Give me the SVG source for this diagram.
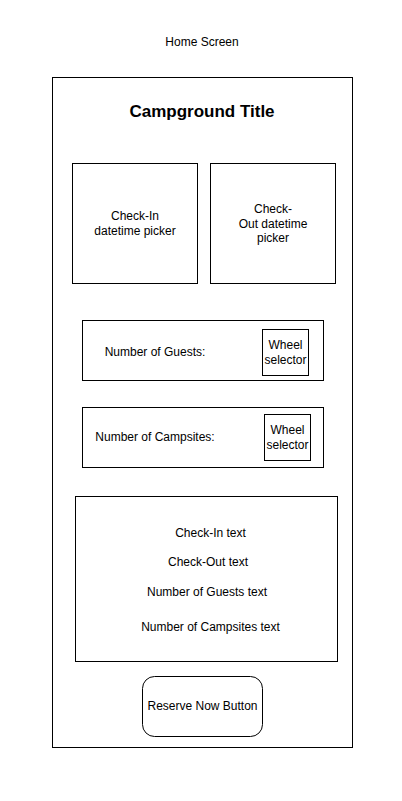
<svg xmlns="http://www.w3.org/2000/svg" width="402" height="801" viewBox="0 0 402 801">
<style>
.b{fill:#fff;stroke:#000;stroke-width:1}
.t{font-family:"Liberation Sans",Arial,sans-serif;font-size:12px;fill:#000;text-anchor:middle}
.h{font-weight:bold;font-size:17px}
</style>
<rect width="402" height="801" fill="#fff"/>
<g id="label-home"><text class="t" x="202" y="46">Home Screen</text></g>
<g id="screen"><rect class="b" x="52.5" y="77.5" width="300" height="670"/></g>
<g id="title"><text class="t h" x="202" y="117">Campground Title</text></g>
<g id="checkin-picker"><rect class="b" x="72.5" y="163.5" width="125" height="120"/>
<text class="t" x="135" y="220">Check-In</text><text class="t" x="135" y="235">datetime picker</text></g>
<g id="checkout-picker"><rect class="b" x="210.5" y="163.5" width="125" height="120"/>
<text class="t" x="273" y="213">Check-</text><text class="t" x="273" y="227.5">Out datetime</text><text class="t" x="273" y="242">picker</text></g>
<g id="guests"><rect class="b" x="82.5" y="320.5" width="241" height="60"/>
<text class="t" x="155" y="356">Number of Guests:</text></g>
<g id="guests-wheel"><rect class="b" x="262.5" y="329.5" width="46" height="46"/>
<text class="t" x="285.5" y="348.5">Wheel</text><text class="t" x="285.5" y="364">selector</text></g>
<g id="campsites"><rect class="b" x="82.5" y="407.5" width="241" height="60"/>
<text class="t" x="155" y="441">Number of Campsites:</text></g>
<g id="campsites-wheel"><rect class="b" x="264.5" y="414.5" width="46" height="46"/>
<text class="t" x="287.5" y="433.5">Wheel</text><text class="t" x="287.5" y="449">selector</text></g>
<g id="summary"><rect class="b" x="75.5" y="496.5" width="262" height="165"/>
<text class="t" x="210.5" y="537">Check-In text</text>
<text class="t" x="208" y="566">Check-Out text</text>
<text class="t" x="207" y="595.5">Number of Guests text</text>
<text class="t" x="210.5" y="631">Number of Campsites text</text></g>
<g id="reserve-button"><rect class="b" x="142.5" y="676.5" width="120" height="60" rx="12" ry="12"/>
<text class="t" x="202.5" y="710">Reserve Now Button</text></g>
<g id="connectors"></g>
</svg>
